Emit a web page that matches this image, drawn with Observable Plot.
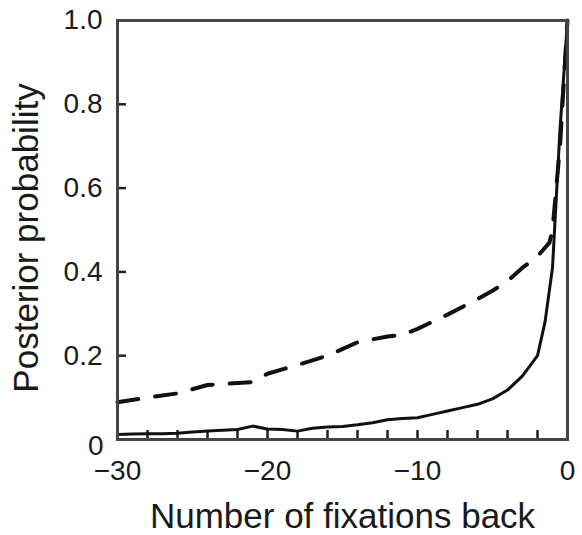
<!DOCTYPE html>
<html><head><meta charset="utf-8">
<script src="https://cdn.jsdelivr.net/npm/d3@7"></script>
<script src="https://cdn.jsdelivr.net/npm/@observablehq/plot@0.6"></script>
<style>
body{margin:0;background:#fff}
svg{font-family:"Liberation Sans",Arial,Helvetica,sans-serif}
</style>
</head><body><div id="chart"></div>
<script>
// Solid line: posterior probability by fixations back
const solidX = [-30,-29,-28,-27,-26,-25,-24,-23,-22,-21,-20,-19,-18,-17,-16,-15,-14,-13,-12,-11,-10,-9,-8,-7,-6,-5,-4,-3,-2,-1.5,-1,-0.5,0];
const solidY = [0.012,0.013,0.014,0.014,0.015,0.018,0.02,0.022,0.024,0.032,0.025,0.024,0.02,0.027,0.03,0.031,0.035,0.04,0.047,0.05,0.052,0.06,0.068,0.076,0.084,0.097,0.118,0.152,0.2,0.28,0.41,0.74,1.0];
// Dashed line
const dashX = [-30,-28,-26,-24,-22,-21,-20,-18,-16,-14,-12,-11,-10,-8,-6,-5,-4,-3,-2,-1.2,-1,-0.5,0];
const dashY = [0.089,0.1,0.11,0.13,0.135,0.137,0.157,0.178,0.2,0.232,0.246,0.25,0.264,0.298,0.335,0.355,0.378,0.41,0.437,0.47,0.5,0.7,1.0];

const xTickLabels = [-30,-20,-10,0];
const xMinorTicks = [-28,-26,-24,-22,-20,-18,-16,-14,-12,-10,-8,-6,-4,-2];
const yTickLabels = [0.2,0.4,0.6,0.8,1.0];
const yZeroLabel = [0];
const yMinorTicks = [0.2,0.4,0.6,0.8];
const xTitle = "Number of fixations back";
const yTitle = "Posterior probability";

const solid = solidX.map((x,i)=>({x, y: solidY[i]}));
const dashed = dashX.map((x,i)=>({x, y: dashY[i]}));

const chart = Plot.plot({
  width: 582, height: 535,
  marginTop: 20, marginRight: 15, marginBottom: 96, marginLeft: 117,
  style: {fontFamily: "'Liberation Sans', Arial, sans-serif", background: "#fff", color: "#1a1a1a"},
  x: {domain: [-30, 0]},
  y: {domain: [0, 1]},
  marks: [
    Plot.axisX({ticks: xMinorTicks, tickSize: -9, tickFormat: () => "", label: null, strokeWidth: 2.5, stroke: "#222"}),
    Plot.axisY({ticks: yMinorTicks, tickSize: -9, tickFormat: () => "", label: null, strokeWidth: 2.5, stroke: "#222"}),
    Plot.axisX({ticks: xTickLabels, tickSize: 0, tickPadding: 21, fontSize: 28, label: null, fill: "#1a1a1a"}),
    Plot.axisY({ticks: yTickLabels, tickSize: 0, tickPadding: 15, fontSize: 28, label: null, fill: "#1a1a1a",
      tickFormat: d => d.toFixed(1)}),
    Plot.axisY({ticks: yZeroLabel, tickSize: 0, tickPadding: 14, dy: 7, fontSize: 28, label: null, fill: "#1a1a1a",
      tickFormat: d => String(d)}),
    Plot.line(dashed, {x: "x", y: "y", stroke: "#111", strokeWidth: 4, strokeDasharray: "21,17"}),
    Plot.line(solid, {x: "x", y: "y", stroke: "#111", strokeWidth: 3}),
    Plot.frame({stroke: "#444", strokeWidth: 3}),
    Plot.text([xTitle], {text: d => d, frameAnchor: "bottom", lineAnchor: "middle", textAnchor: "middle", dy: 77, fontSize: 35, fill: "#1a1a1a"}),
    Plot.text([yTitle], {text: d => d, frameAnchor: "left", lineAnchor: "middle", textAnchor: "middle", rotate: -90, dx: -91, dy: 8, fontSize: 35, fill: "#1a1a1a"})
  ]
});
document.getElementById("chart").appendChild(chart);
</script>
</body></html>
